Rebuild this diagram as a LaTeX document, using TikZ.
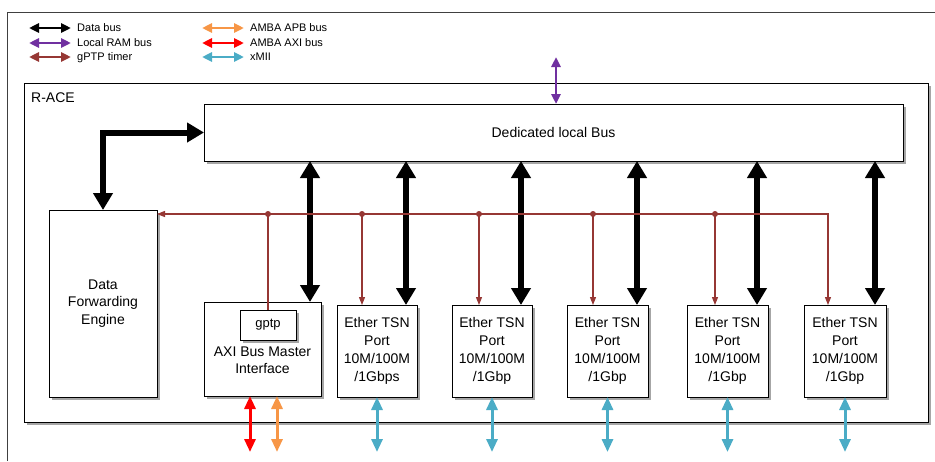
\documentclass[tikz,border=0pt]{standalone}
\usepackage{fontspec}
\setmainfont{Liberation Sans}
\usepackage{xcolor}
\usepackage{tikz}
\usetikzlibrary{arrows.meta, positioning, calc}

\definecolor{timerred}{RGB}{150,55,52}
\definecolor{ramviolet}{RGB}{112,48,160}
\definecolor{apborange}{RGB}{247,150,70}
\definecolor{miicyan}{RGB}{75,172,198}

% shadow strip under a box: x, y, width, height
\newcommand{\boxshade}[4]{\fill[black!35] ({#1+3},{#2+3}) rectangle ({#1+#3+3},{#2+#4+3});}

\begin{document}
\begin{tikzpicture}[x=1pt, y=-1pt,
  box/.style={draw, fill=white, line width=0.8pt, inner sep=0pt, outer sep=0pt,
    anchor=north west, align=center, font=\fontsize{14}{18}\selectfont},
  port/.style={box, minimum height=92pt},
  legtxt/.style={anchor=west, inner sep=0pt, text height=8pt, text depth=2pt,
    font=\fontsize{11}{13}\selectfont},
  databus/.style={{Triangle[width=19pt,length=17pt]}-{Triangle[width=19pt,length=17pt]}, line width=6pt},
  sidebus/.style={{Triangle[width=11pt,length=13pt]}-{Triangle[width=11pt,length=13pt]}, line width=3pt},
  legbus/.style={{Triangle[width=9pt,length=10pt]}-{Triangle[width=9pt,length=10pt]}, line width=2.5pt},
  timer/.style={timerred, line width=1.2pt},
  tick/.style={-{Triangle[width=6pt,length=8pt]}},
  dot/.style={fill=timerred},
]

\useasboundingbox (0,0) rectangle (935,461);

%% Page frame
\draw[line width=0.8pt, black!75] (7,461) |- (935,12);

%% Legend
\node[legtxt] (lg1) at (77,28) {Data bus};
\node[legtxt] (lg2) at (77,43) {Local RAM bus};
\node[legtxt] (lg3) at (77,57) {gPTP timer};
\node[legtxt] (lg4) at (250,28) {AMBA APB bus};
\node[legtxt] (lg5) at (250,43) {AMBA AXI bus};
\node[legtxt] (lg6) at (250,57) {xMII};
\draw[legbus, black] ($(lg1.west)+(-48,0)$) -- ($(lg1.west)+(-6,0)$);
\draw[legbus, ramviolet] ($(lg2.west)+(-48,0)$) -- ($(lg2.west)+(-6,0)$);
\draw[legbus, timerred] ($(lg3.west)+(-48,0)$) -- ($(lg3.west)+(-6,0)$);
\draw[legbus, apborange] ($(lg4.west)+(-48,0)$) -- ($(lg4.west)+(-6,0)$);
\draw[legbus, red] ($(lg5.west)+(-48,0)$) -- ($(lg5.west)+(-6,0)$);
\draw[legbus, miicyan] ($(lg6.west)+(-48,0)$) -- ($(lg6.west)+(-6,0)$);

%% R-ACE block
\boxshade{24}{83}{904}{339}
\node[box, minimum width=904pt, minimum height=339pt] (race) at (24,83) {};
\node[anchor=base west, inner sep=0pt, font=\fontsize{14}{18}\selectfont] (racelbl) at (31,102) {R-ACE};

%% Inner blocks
\boxshade{204}{104}{699}{57}
\node[box, minimum width=699pt, minimum height=57pt] (bus) at (204,104) {Dedicated local Bus};
\boxshade{49}{210}{108}{187}
\node[box, minimum width=108pt, minimum height=187pt, font=\fontsize{14}{17.5}\selectfont] (dfe) at (49,210) {Data\\Forwarding\\Engine};
\boxshade{204}{302}{117}{94}
\node[box, minimum width=117pt, minimum height=94pt] (axi) at (204,302) {};
\boxshade{240}{310}{56}{30}
\node[box, minimum width=56pt, minimum height=30pt, font=\fontsize{13}{16}\selectfont] (gptp) at (240,310) {gptp};
\node[align=center, inner sep=0pt, font=\fontsize{14}{17.5}\selectfont] (axitxt) at ($(axi.center)+(0,11)$) {AXI Bus Master\\Interface};
\boxshade{337}{305}{80}{92}
\node[port, minimum width=80pt] (p1) at (337,305) {Ether TSN\\Port\\10M/100M\\/1Gbps};
\boxshade{452}{305}{80}{92}
\node[port, minimum width=80pt] (p2) at (452,305) {Ether TSN\\Port\\10M/100M\\/1Gbp};
\boxshade{567}{305}{81}{92}
\node[port, minimum width=81pt] (p3) at (567,305) {Ether TSN\\Port\\10M/100M\\/1Gbp};
\boxshade{687}{305}{81}{92}
\node[port, minimum width=81pt] (p4) at (687,305) {Ether TSN\\Port\\10M/100M\\/1Gbp};
\boxshade{804}{305}{82}{92}
\node[port, minimum width=82pt] (p5) at (804,305) {Ether TSN\\Port\\10M/100M\\/1Gbp};

%% Data bus
\draw[databus] (bus.west) -| (dfe.north);
\draw[databus] ($(axi.north east)+(-11,0)$) -- ($(axi.north east |- bus.south)+(-11,0)$);
\draw[databus] ($(p1.north east)+(-11,0)$) -- ($(p1.north east |- bus.south)+(-11,0)$);
\draw[databus] ($(p2.north east)+(-11,0)$) -- ($(p2.north east |- bus.south)+(-11,0)$);
\draw[databus] ($(p3.north east)+(-11,0)$) -- ($(p3.north east |- bus.south)+(-11,0)$);
\draw[databus] ($(p4.north east)+(-11,0)$) -- ($(p4.north east |- bus.south)+(-11,0)$);
\draw[databus] ($(p5.north east)+(-11,0)$) -- ($(p5.north east |- bus.south)+(-11,0)$);

%% Local RAM bus
\coordinate (ramtop) at ($(bus.north)+(2.5,-47)$);
\draw[legbus, ramviolet] ($(bus.north)+(2.5,0)$) -- (ramtop);

%% gPTP timer
\coordinate (tj) at ($(gptp.north)+(0,-96)$);
\coordinate (t1) at ($(p1.north west)+(25,0)$);
\coordinate (t2) at ($(p2.north west)+(27,0)$);
\coordinate (t3) at ($(p3.north west)+(26,0)$);
\coordinate (t4) at ($(p4.north west)+(28,0)$);
\coordinate (t5) at ($(p5.north west)+(24,0)$);
\draw[timer] (gptp.north) -- (tj);
\draw[timer, tick] (tj) -- (tj -| dfe.east);
\draw[timer, tick] (tj) -| (t5);
\draw[timer, tick] (t1 |- tj) -- (t1);
\draw[timer, tick] (t2 |- tj) -- (t2);
\draw[timer, tick] (t3 |- tj) -- (t3);
\draw[timer, tick] (t4 |- tj) -- (t4);
\fill[dot] (tj) circle (3);
\fill[dot] (t1 |- tj) circle (3);
\fill[dot] (t2 |- tj) circle (3);
\fill[dot] (t3 |- tj) circle (3);
\fill[dot] (t4 |- tj) circle (3);

%% AMBA and xMII
\draw[sidebus, red] ($(axi.south)+(-12.5,0)$) -- ++(0,56);
\draw[sidebus, apborange] ($(axi.south)+(14.5,0)$) -- ++(0,56);
\draw[sidebus, miicyan] (p1.south) -- ++(0,55);
\draw[sidebus, miicyan] (p2.south) -- ++(0,55);
\draw[sidebus, miicyan] (p3.south) -- ++(0,55);
\draw[sidebus, miicyan] (p4.south) -- ++(0,55);
\draw[sidebus, miicyan] (p5.south) -- ++(0,55);

\end{tikzpicture}
\end{document}
